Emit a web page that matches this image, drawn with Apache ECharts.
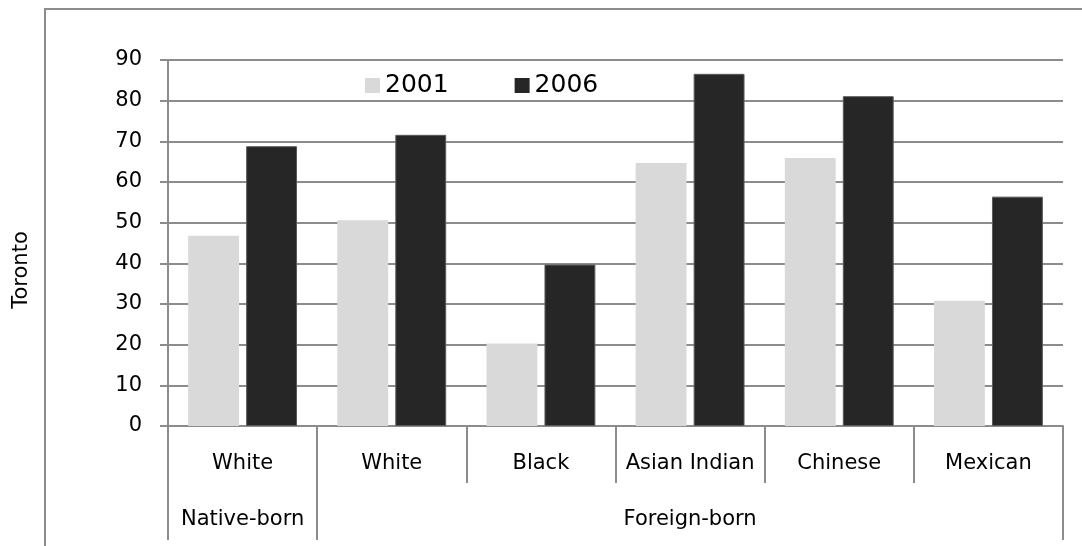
<!DOCTYPE html>
<html>
<head>
<meta charset="utf-8">
<script src="https://cdn.jsdelivr.net/npm/echarts@6/dist/echarts.min.js"></script>
<style>
  html, body { margin: 0; padding: 0; background: #fff; }
  #chart { width: 1082px; height: 546px; }
</style>
</head>
<body>
<div id="chart"></div>
<script>
// categories (first row) and groups (second row)
const categories = ['White', 'White', 'Black', 'Asian Indian', 'Chinese', 'Mexican'];
const groupNames = ['Native-born', 'Foreign-born'];
const groupSizes = [1, 5];
const seriesNames = ['2001', '2006'];
const values2001 = [46.8, 50.6, 20.3, 64.7, 65.9, 30.8];
const values2006 = [68.8, 71.6, 39.7, 86.6, 81.1, 56.4];
const yTicks = [0, 10, 20, 30, 40, 50, 60, 70, 80, 90];

const font = 'DejaVu Sans, Verdana, sans-serif';
const lineGray = '#8c8c8c';

// group boundaries and centres on the 0..n value axis
let bounds = [0], centres = [];
groupSizes.forEach((s, i) => {
  const start = bounds[bounds.length - 1];
  centres.push(start + s / 2);
  bounds.push(start + s);
});

const chart = echarts.init(document.getElementById('chart'));
chart.setOption({
  animation: false,
  color: ['#d9d9d9', '#262626'],
  textStyle: { fontFamily: font },
  graphic: [{
    type: 'rect',
    shape: { x: 45, y: 9, width: 1100, height: 600 },
    style: { fill: 'none', stroke: lineGray, lineWidth: 2 },
    silent: true
  }, {
    // vertical title on the left
    type: 'text', x: 22, y: 270, rotation: Math.PI / 2,
    style: { text: 'Toronto', font: '21px ' + font, fill: '#000', align: 'center', verticalAlign: 'middle' },
    silent: true
  }],
  legend: {
    left: 360, top: 68,
    icon: 'rect', itemWidth: 15, itemHeight: 15, itemGap: 66,
    itemStyle: { borderWidth: 0 },
    textStyle: { fontSize: 25, color: '#000', fontFamily: font },
    data: seriesNames
  },
  grid: { left: 168, right: 19, top: 60, bottom: 120 },
  xAxis: [{
    type: 'category',
    data: categories,
    axisLine: { show: true, lineStyle: { color: lineGray, width: 2 } },
    axisTick: { show: true, interval: 0, length: 57, lineStyle: { color: lineGray, width: 2 } },
    axisLabel: { interval: 0, margin: 27, fontSize: 21, color: '#000', fontFamily: font }
  }, {
    type: 'value', position: 'bottom', offset: 57,
    min: 0, max: categories.length,
    axisLine: { show: false },
    splitLine: { show: false },
    axisTick: { show: true, customValues: bounds, length: 57, lineStyle: { color: lineGray, width: 2 } },
    axisLabel: {
      customValues: centres, margin: 26, fontSize: 21, color: '#000', fontFamily: font,
      formatter: v => groupNames[centres.indexOf(v)] || ''
    }
  }],
  yAxis: {
    type: 'value', min: 0, max: 90, interval: 10,
    axisLine: { show: true, lineStyle: { color: lineGray, width: 2 } },
    axisTick: { show: true, length: 8, lineStyle: { color: lineGray, width: 2 } },
    axisLabel: { margin: 26, fontSize: 21, color: '#000', fontFamily: font,
      formatter: v => yTicks.includes(v) ? String(v) : '' },
    splitLine: { lineStyle: { color: lineGray, width: 2 } }
  },
  series: [{
    name: seriesNames[0], type: 'bar', data: values2001,
    barGap: '14%', barCategoryGap: '27%'
  }, {
    name: seriesNames[1], type: 'bar', data: values2006,
    barGap: '14%', barCategoryGap: '27%',
    itemStyle: { borderColor: '#5a5a5a', borderWidth: 1 }
  }]
});
</script>
</body>
</html>
